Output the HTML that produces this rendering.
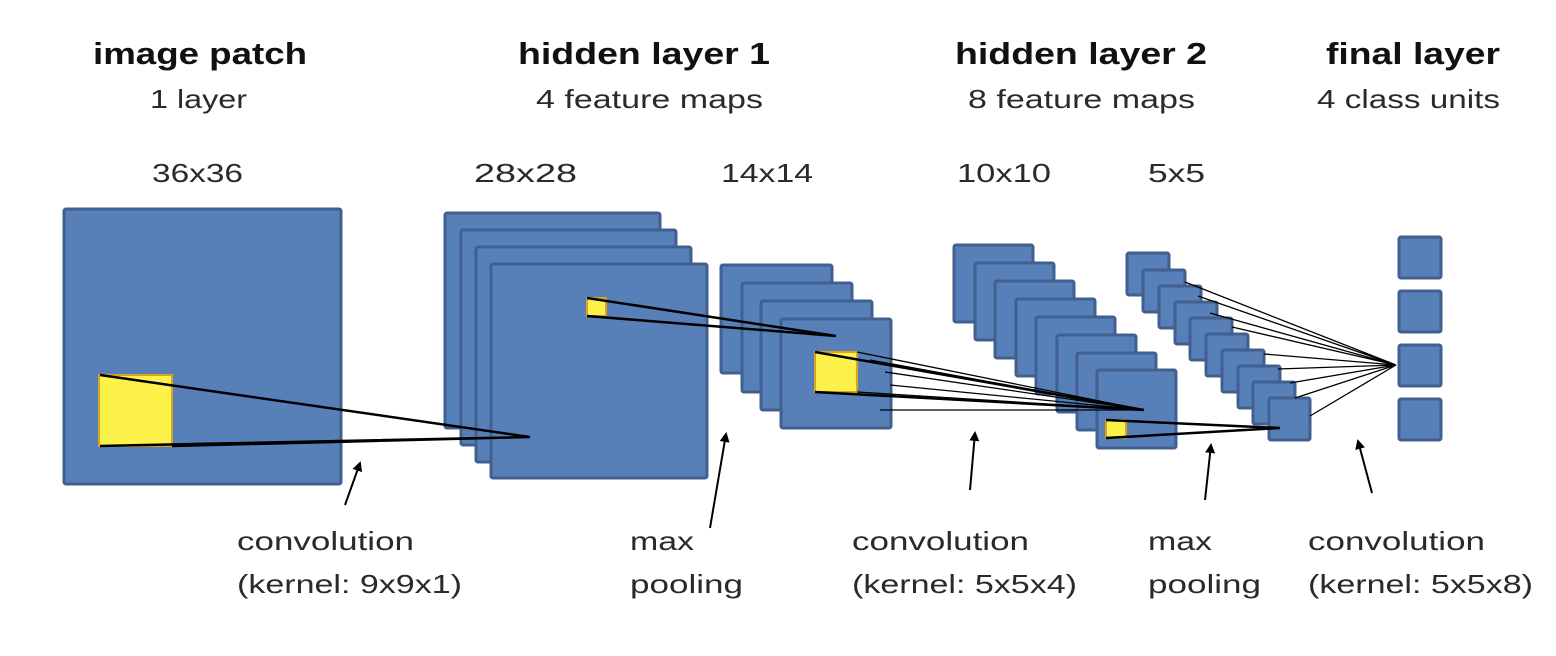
<!DOCTYPE html>
<html><head><style>
html,body{margin:0;padding:0;background:#fff;}
svg{display:block;}
text{font-family:"Liberation Sans",sans-serif;fill:#2a2a2a;}
.h{font-weight:bold;font-size:31px;fill:#111;}
.s{font-size:26px;}
</style></head><body>
<svg width="1556" height="656" viewBox="0 0 1556 656" xmlns="http://www.w3.org/2000/svg">
<defs>
<marker id="ah" markerWidth="10" markerHeight="10" refX="8" refY="5" orient="auto" markerUnits="userSpaceOnUse" viewBox="0 0 10 10">
<path d="M0,0 L10,5 L0,10 z" fill="#000"/></marker>
</defs>
<g fill="#5780b9" stroke="#41608f" stroke-width="3">
<rect x="64" y="209" width="277" height="275" rx="2"/>
<rect x="445" y="213" width="215" height="215" rx="2"/>
<rect x="461" y="230" width="215" height="215" rx="2"/>
<rect x="476" y="247" width="215" height="215" rx="2"/>
<rect x="491" y="264" width="216" height="214" rx="2"/>
<rect x="721" y="265" width="111" height="108" rx="2"/>
<rect x="742" y="283" width="110" height="109" rx="2"/>
<rect x="761" y="301" width="111" height="109" rx="2"/>
<rect x="781" y="319" width="110" height="109" rx="2"/>
<rect x="954" y="245" width="79" height="77" rx="2"/>
<rect x="975" y="263" width="79" height="77" rx="2"/>
<rect x="995" y="281" width="79" height="77" rx="2"/>
<rect x="1016" y="299" width="79" height="77" rx="2"/>
<rect x="1036" y="317" width="79" height="77" rx="2"/>
<rect x="1057" y="335" width="79" height="77" rx="2"/>
<rect x="1077" y="353" width="79" height="77" rx="2"/>
<rect x="1097" y="370" width="79" height="78" rx="2"/>
<rect x="1127" y="253" width="42" height="42" rx="2"/>
<rect x="1143" y="270" width="42" height="42" rx="2"/>
<rect x="1159" y="286" width="42" height="42" rx="2"/>
<rect x="1175" y="302" width="42" height="42" rx="2"/>
<rect x="1190" y="318" width="42" height="42" rx="2"/>
<rect x="1206" y="334" width="42" height="42" rx="2"/>
<rect x="1222" y="350" width="42" height="42" rx="2"/>
<rect x="1238" y="366" width="42" height="42" rx="2"/>
<rect x="1253" y="382" width="42" height="42" rx="2"/>
<rect x="1269" y="398" width="41" height="42" rx="2"/>
<rect x="1399" y="237" width="42" height="41" rx="2"/>
<rect x="1399" y="291" width="42" height="41" rx="2"/>
<rect x="1399" y="345" width="42" height="41" rx="2"/>
<rect x="1399" y="399" width="42" height="41" rx="2"/>
</g>
<g fill="#fdf24a" stroke="#d9a520" stroke-width="2">
<rect x="99" y="375" width="73" height="71"/>
<rect x="587" y="298" width="19" height="18"/>
<rect x="815" y="352" width="42" height="40"/>
<rect x="1106" y="420" width="20" height="18"/>
</g>
<g stroke="#000" stroke-width="2.5" fill="none">
<path d="M100,375 L530,437 M172,446 L530,437 M100,446 L530,437"/>
<path d="M587,298 L836,336 M587,316 L836,336"/>
<path d="M815,352 L1144,410 M815,392 L1144,410"/>
<path d="M1106,420 L1280,428 M1106,438 L1280,428"/>
</g>
<g stroke="#000" stroke-width="1.3" fill="none">
<path d="M857,352 L1144,410 M870,360 L1144,410 M885,372 L1144,410 M890,385 L1144,410 M857,392 L1144,410 M880,410 L1144,410"/>
<path d="M1185,282 L1396,365 M1198,296 L1396,365 M1210,313 L1396,365 M1232,327 L1396,365 M1264,354 L1396,365 M1278,369 L1396,365 M1290,383 L1396,365 M1295,398 L1396,365 M1310,416 L1396,365"/>
</g>
<g stroke="#000" stroke-width="2" marker-end="url(#ah)">
<line x1="345" y1="505" x2="360" y2="463"/>
<line x1="710" y1="528" x2="726" y2="434"/>
<line x1="970" y1="490" x2="975" y2="433"/>
<line x1="1205" y1="500" x2="1211" y2="445"/>
<line x1="1372" y1="493" x2="1358" y2="441"/>
</g>
<g class="h">
<text class="h" x="93" y="64" textLength="214" lengthAdjust="spacingAndGlyphs">image patch</text>
<text class="h" x="518" y="64" textLength="252" lengthAdjust="spacingAndGlyphs">hidden layer 1</text>
<text class="h" x="955" y="64" textLength="252" lengthAdjust="spacingAndGlyphs">hidden layer 2</text>
<text class="h" x="1326" y="64" textLength="174" lengthAdjust="spacingAndGlyphs">final layer</text>
</g>
<text class="s" x="150" y="108" textLength="97" lengthAdjust="spacingAndGlyphs">1 layer</text>
<text class="s" x="536" y="108" textLength="227" lengthAdjust="spacingAndGlyphs">4 feature maps</text>
<text class="s" x="968" y="108" textLength="227" lengthAdjust="spacingAndGlyphs">8 feature maps</text>
<text class="s" x="1317" y="108" textLength="183" lengthAdjust="spacingAndGlyphs">4 class units</text>
<text class="s" x="152" y="182" textLength="91" lengthAdjust="spacingAndGlyphs">36x36</text>
<text class="s" x="474" y="182" textLength="103" lengthAdjust="spacingAndGlyphs">28x28</text>
<text class="s" x="721" y="182" textLength="92" lengthAdjust="spacingAndGlyphs">14x14</text>
<text class="s" x="957" y="182" textLength="94" lengthAdjust="spacingAndGlyphs">10x10</text>
<text class="s" x="1148" y="182" textLength="57" lengthAdjust="spacingAndGlyphs">5x5</text>
<text class="s" x="237" y="550" textLength="177" lengthAdjust="spacingAndGlyphs">convolution</text>
<text class="s" x="237" y="593" textLength="225" lengthAdjust="spacingAndGlyphs">(kernel: 9x9x1)</text>
<text class="s" x="630" y="550" textLength="64" lengthAdjust="spacingAndGlyphs">max</text>
<text class="s" x="630" y="593" textLength="113" lengthAdjust="spacingAndGlyphs">pooling</text>
<text class="s" x="852" y="550" textLength="177" lengthAdjust="spacingAndGlyphs">convolution</text>
<text class="s" x="852" y="593" textLength="225" lengthAdjust="spacingAndGlyphs">(kernel: 5x5x4)</text>
<text class="s" x="1148" y="550" textLength="64" lengthAdjust="spacingAndGlyphs">max</text>
<text class="s" x="1148" y="593" textLength="113" lengthAdjust="spacingAndGlyphs">pooling</text>
<text class="s" x="1308" y="550" textLength="177" lengthAdjust="spacingAndGlyphs">convolution</text>
<text class="s" x="1308" y="593" textLength="225" lengthAdjust="spacingAndGlyphs">(kernel: 5x5x8)</text>
</svg>
</body></html>
